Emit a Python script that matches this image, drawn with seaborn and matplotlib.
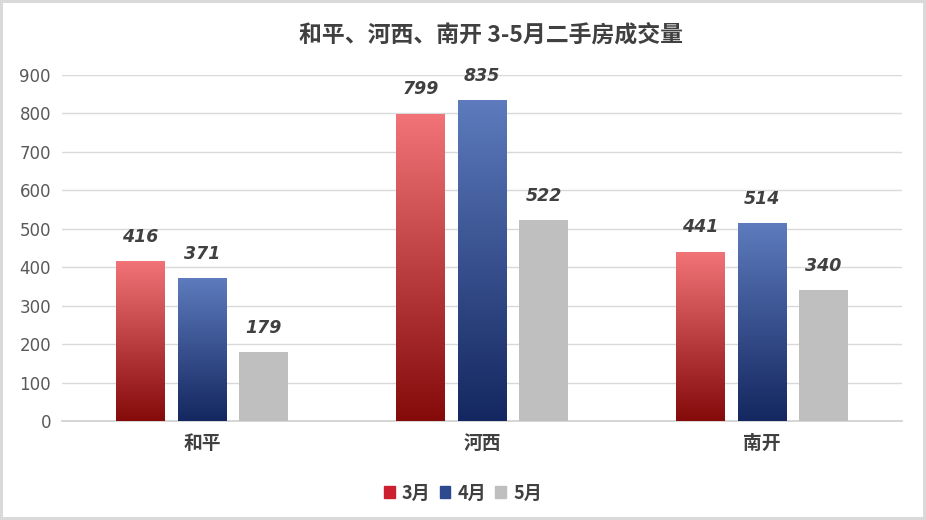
import numpy as np
import pandas as pd
import matplotlib
matplotlib.use('Agg')
import matplotlib.pyplot as plt
import seaborn as sns
from matplotlib.colors import LinearSegmentedColormap

# data
districts = ['和平', '河西', '南开']
months = ['3月', '4月', '5月']
sales_mar = [416, 799, 441]
sales_apr = [371, 835, 514]
sales_may = [179, 522, 340]

title = '和平、河西、南开 3-5月二手房成交量'

# (top colour, bottom colour, legend colour) for each month
month_colors = {
    '3月': ('#F27478', '#850A0A', '#CC2030'),
    '4月': ('#5D7BBD', '#142760', '#2E4A8E'),
    '5月': ('#BFBFBF', '#BFBFBF', '#BFBFBF'),
}

df = pd.DataFrame({
    'district': districts * 3,
    'month': [m for m in months for _ in districts],
    'count': sales_mar + sales_apr + sales_may,
})

sns.set_theme(style='white')
plt.rcParams['font.family'] = ['Noto Sans CJK SC', 'DejaVu Sans']

fig = plt.figure(figsize=(9.26, 5.2), dpi=100)
ax = fig.add_axes([62 / 926, 0.19, 840 / 926, 0.666])

palette = {m: month_colors[m][0] for m in months}
sns.barplot(data=df, x='district', y='count', hue='month', order=districts,
            hue_order=months, palette=palette, width=0.66, gap=0.21,
            saturation=1, linewidth=0, ax=ax, legend=True, zorder=3)

ax.set_yticks(np.arange(0, 901, 100))
ax.yaxis.grid(True, color='#D9D9D9', linewidth=1, zorder=0)
ax.set_axisbelow(True)
for side in ['top', 'right', 'left']:
    ax.spines[side].set_visible(False)
ax.spines['bottom'].set_color('#D0D0D0')
ax.set_xlabel('')
ax.set_ylabel('')
ax.tick_params(axis='y', labelcolor='#595959', labelsize=12, length=0, pad=8,
               labelfontfamily='DejaVu Sans')
ax.tick_params(axis='x', labelcolor='#404040', labelsize=13.5, length=0, pad=9)
for lab in ax.get_xticklabels():
    lab.set_fontweight('bold')

# gradient fill and value labels for each bar
for container, month in zip(ax.containers, months):
    top_c, bot_c, _ = month_colors[month]
    cmap = LinearSegmentedColormap.from_list(month, [bot_c, top_c])
    for bar in container:
        x0, y0 = bar.get_x(), bar.get_y()
        w, h = bar.get_width(), bar.get_height()
        if month != '5月':
            grad = np.linspace(0, 1, 256).reshape(-1, 1)
            im = ax.imshow(grad, cmap=cmap, origin='lower', aspect='auto',
                           extent=[x0, x0 + w, y0, y0 + h], zorder=4)
            im.set_clip_path(bar)
        ax.annotate(f'{int(round(h))}', (x0 + w / 2, y0 + h),
                    xytext=(0, 11), textcoords='offset points',
                    ha='center', va='bottom', fontsize=12.5,
                    fontweight='bold', fontstyle='italic',
                    family='DejaVu Sans', color='#404040', zorder=5)

ax.set_xlim(-0.5, 2.5)
ax.set_ylim(0, 900)

ax.legend_.remove()
handles = [plt.Rectangle((0, 0), 1, 1, color=month_colors[m][2]) for m in months]
leg = fig.legend(handles, months, loc='center', bbox_to_anchor=(0.5, 0.052),
                 ncol=3, frameon=False, handlelength=0.6, handleheight=0.6,
                 handletextpad=0.4, columnspacing=0.5,
                 prop={'weight': 'bold', 'size': 13,
                       'family': ['Noto Sans CJK SC', 'DejaVu Sans']})
for t in leg.get_texts():
    t.set_color('#404040')

fig.text(0.53, 0.932, title, ha='center', va='center', fontsize=16.5,
         fontweight='bold', color='#404040')

fig.patch.set_edgecolor('#D9D9D9')
fig.patch.set_linewidth(3)

fig.savefig('out.png', dpi=100)
